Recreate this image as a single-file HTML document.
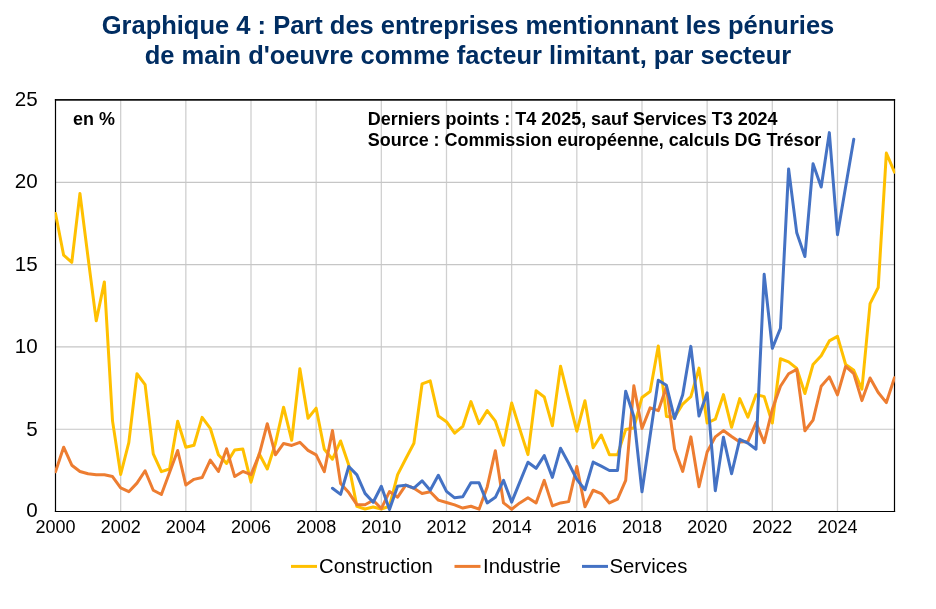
<!DOCTYPE html>
<html><head><meta charset="utf-8"><title>Graphique 4</title>
<style>
html,body{margin:0;padding:0;background:#fff;}
body{width:936px;height:609px;overflow:hidden;}
svg{display:block;}
text{font-family:"Liberation Sans",Arial,sans-serif;}
</style></head><body>
<svg width="936" height="609" viewBox="0 0 936 609">
<rect width="936" height="609" fill="#fff"/>
<text x="468" y="33.8" text-anchor="middle" font-size="25.5" font-weight="bold" fill="#002D62">Graphique 4 : Part des entreprises mentionnant les pénuries</text>
<text x="468" y="63.8" text-anchor="middle" font-size="25.5" font-weight="bold" fill="#002D62">de main d'oeuvre comme facteur limitant, par secteur</text>
<g stroke="#d0d0d0" stroke-width="1.3"><line x1="120.67" y1="99.5" x2="120.67" y2="511.5"/><line x1="185.83" y1="99.5" x2="185.83" y2="511.5"/><line x1="251.00" y1="99.5" x2="251.00" y2="511.5"/><line x1="316.16" y1="99.5" x2="316.16" y2="511.5"/><line x1="381.33" y1="99.5" x2="381.33" y2="511.5"/><line x1="446.49" y1="99.5" x2="446.49" y2="511.5"/><line x1="511.66" y1="99.5" x2="511.66" y2="511.5"/><line x1="576.82" y1="99.5" x2="576.82" y2="511.5"/><line x1="641.99" y1="99.5" x2="641.99" y2="511.5"/><line x1="707.15" y1="99.5" x2="707.15" y2="511.5"/><line x1="772.32" y1="99.5" x2="772.32" y2="511.5"/><line x1="837.48" y1="99.5" x2="837.48" y2="511.5"/></g>
<g stroke="#c6c6c6" stroke-width="1.2"><line x1="55.5" y1="182.35" x2="894.5" y2="182.35"/><line x1="55.5" y1="264.60" x2="894.5" y2="264.60"/><line x1="55.5" y1="346.90" x2="894.5" y2="346.90"/><line x1="55.5" y1="429.25" x2="894.5" y2="429.25"/></g>
<line x1="54.9" y1="99.8" x2="895.1" y2="99.8" stroke="#111" stroke-width="1.7"/>
<line x1="55.5" y1="99" x2="55.5" y2="512.0" stroke="#000" stroke-width="1.2"/>
<line x1="894.5" y1="99" x2="894.5" y2="512.0" stroke="#000" stroke-width="1.2"/>
<defs><clipPath id="pa"><rect x="54.8" y="95" width="840.4" height="416.2"/></clipPath></defs>
<g clip-path="url(#pa)" fill="none" stroke-width="3" stroke-linejoin="round" stroke-linecap="round">
<polyline stroke="#FFC000" points="55.50,213.54 63.65,255.24 71.79,262.32 79.94,193.44 88.08,257.71 96.23,320.83 104.37,281.93 112.52,420.86 120.67,474.42 128.81,442.61 136.96,373.73 145.10,384.60 153.25,453.82 161.39,471.62 169.54,468.98 177.68,421.19 185.83,447.23 193.98,445.25 202.12,417.40 210.27,428.28 218.41,454.81 226.56,463.38 234.70,450.03 242.85,449.04 251.00,482.17 259.14,453.82 267.29,468.98 275.43,443.44 283.58,407.18 291.72,440.31 299.87,368.78 308.01,418.22 316.16,408.17 324.31,449.21 332.45,459.26 340.60,440.97 348.74,465.03 356.89,506.39 365.03,509.03 373.18,507.05 381.33,509.03 389.47,506.23 397.62,474.58 405.76,458.76 413.91,443.27 422.05,383.94 430.20,380.81 438.34,416.08 446.49,421.68 454.64,433.22 462.78,426.46 470.93,401.58 479.07,423.66 487.22,410.64 495.36,421.19 503.51,445.25 511.66,403.06 519.80,429.10 527.95,454.64 536.09,390.70 544.24,396.96 552.38,425.80 560.53,366.15 568.67,398.94 576.82,431.24 584.97,400.75 593.11,447.72 601.26,435.03 609.40,454.64 617.55,454.64 625.69,429.59 633.84,427.95 641.99,397.46 650.13,391.53 658.28,346.04 666.42,416.41 674.57,417.23 682.71,404.05 690.86,396.63 699.00,368.12 707.15,423.00 715.30,419.21 723.44,394.66 731.59,427.29 739.73,398.61 747.88,417.23 756.02,394.66 764.17,396.63 772.32,423.00 780.46,358.73 788.61,361.86 796.75,368.45 804.90,393.50 813.04,364.50 821.19,355.76 829.33,340.93 837.48,336.32 845.63,364.50 853.77,370.27 861.92,389.22 870.06,303.69 878.21,287.54 886.35,153.06 894.50,172.18"/>
<polyline stroke="#ED7D31" points="55.50,471.78 63.65,447.23 71.79,465.19 79.94,471.45 88.08,473.76 96.23,474.75 104.37,474.75 112.52,476.56 120.67,487.93 128.81,491.72 136.96,483.15 145.10,470.79 153.25,490.24 161.39,494.53 169.54,472.44 177.68,450.52 185.83,484.97 193.98,479.36 202.12,477.55 210.27,460.08 218.41,471.45 226.56,448.71 234.70,476.56 242.85,471.45 251.00,474.58 259.14,454.81 267.29,423.66 275.43,454.81 283.58,443.44 291.72,445.42 299.87,442.28 308.01,450.36 316.16,454.81 324.31,471.62 332.45,430.42 340.60,483.48 348.74,492.55 356.89,504.58 365.03,504.74 373.18,500.29 381.33,508.53 389.47,491.56 397.62,497.16 405.76,485.13 413.91,488.26 422.05,493.54 430.20,491.72 438.34,500.13 446.49,502.44 454.64,504.91 462.78,508.04 470.93,506.23 479.07,509.19 487.22,486.94 495.36,450.69 503.51,502.93 511.66,509.19 519.80,502.93 527.95,497.82 536.09,502.93 544.24,480.35 552.38,505.90 560.53,502.93 568.67,501.61 576.82,466.51 584.97,506.72 593.11,490.24 601.26,493.54 609.40,502.93 617.55,499.14 625.69,480.35 633.84,385.76 641.99,428.44 650.13,407.84 658.28,410.64 666.42,387.08 674.57,449.04 682.71,471.45 690.86,436.85 699.00,486.78 707.15,452.01 715.30,436.85 723.44,430.58 731.59,436.52 739.73,441.95 747.88,441.62 756.02,422.67 764.17,442.61 772.32,409.32 780.46,386.25 788.61,373.73 796.75,369.44 804.90,430.75 813.04,420.04 821.19,386.25 829.33,376.86 837.48,394.82 845.63,366.48 853.77,373.56 861.92,400.59 870.06,378.01 878.21,392.51 886.35,402.57 894.50,377.68"/>
<polyline stroke="#4472C4" points="332.45,488.26 340.60,494.36 348.74,466.51 356.89,474.91 365.03,493.37 373.18,502.27 381.33,486.29 389.47,509.52 397.62,486.29 405.76,485.13 413.91,488.10 422.05,480.85 430.20,490.24 438.34,475.24 446.49,491.39 454.64,497.82 462.78,496.67 470.93,482.82 479.07,482.82 487.22,502.93 495.36,497.33 503.51,480.35 511.66,502.11 519.80,482.17 527.95,462.22 536.09,468.32 544.24,455.63 552.38,477.39 560.53,448.22 568.67,463.21 576.82,479.36 584.97,489.75 593.11,462.06 601.26,466.18 609.40,470.46 617.55,470.46 625.69,391.20 633.84,416.58 641.99,491.72 650.13,435.69 658.28,380.15 666.42,385.26 674.57,418.55 682.71,394.66 690.86,346.37 699.00,416.08 707.15,392.84 715.30,490.74 723.44,437.34 731.59,473.76 739.73,439.32 747.88,443.11 756.02,449.21 764.17,274.35 772.32,348.35 780.46,328.24 788.61,168.88 796.75,232.82 804.90,256.55 813.04,163.77 821.19,187.01 829.33,132.62 837.48,234.64 845.63,186.84 853.77,139.22"/>
</g>
<line x1="54.9" y1="511.5" x2="895.1" y2="511.5" stroke="#000" stroke-width="1.2"/>
<g font-size="20.6" fill="#000"><text x="37.6" y="517.20" text-anchor="end">0</text><text x="37.6" y="435.60" text-anchor="end">5</text><text x="37.6" y="353.20" text-anchor="end">10</text><text x="37.6" y="270.80" text-anchor="end">15</text><text x="37.6" y="188.40" text-anchor="end">20</text><text x="37.6" y="106.00" text-anchor="end">25</text></g>
<g font-size="18" fill="#000"><text x="55.50" y="533" text-anchor="middle">2000</text><text x="120.67" y="533" text-anchor="middle">2002</text><text x="185.83" y="533" text-anchor="middle">2004</text><text x="251.00" y="533" text-anchor="middle">2006</text><text x="316.16" y="533" text-anchor="middle">2008</text><text x="381.33" y="533" text-anchor="middle">2010</text><text x="446.49" y="533" text-anchor="middle">2012</text><text x="511.66" y="533" text-anchor="middle">2014</text><text x="576.82" y="533" text-anchor="middle">2016</text><text x="641.99" y="533" text-anchor="middle">2018</text><text x="707.15" y="533" text-anchor="middle">2020</text><text x="772.32" y="533" text-anchor="middle">2022</text><text x="837.48" y="533" text-anchor="middle">2024</text></g>
<g font-size="17.95" font-weight="bold" fill="#000"><text x="73.1" y="125.3">en %</text><text x="367.8" y="124.8">Derniers points : T4 2025, sauf Services T3 2024</text><text x="367.8" y="145.7">Source : Commission européenne, calculs DG Trésor</text></g>
<g stroke-width="3" stroke-linecap="butt"><line x1="291" y1="566.4" x2="317" y2="566.4" stroke="#FFC000"/><line x1="454.5" y1="566.4" x2="480.5" y2="566.4" stroke="#ED7D31"/><line x1="582" y1="566.4" x2="608" y2="566.4" stroke="#4472C4"/></g>
<g font-size="20.3" fill="#000"><text x="319" y="572.7">Construction</text><text x="483" y="572.7">Industrie</text><text x="609.5" y="572.7">Services</text></g>
</svg>
</body></html>
